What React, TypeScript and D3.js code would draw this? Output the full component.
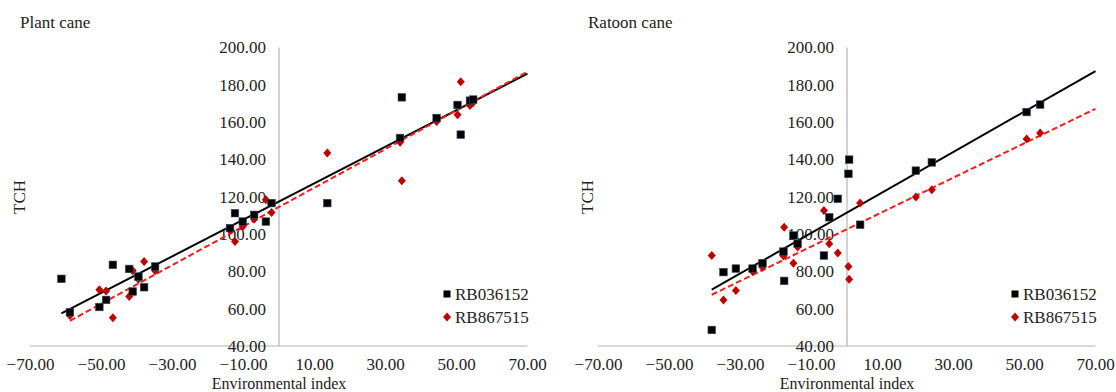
import React from "react";
import { scaleLinear, format, line, min } from "d3";

// tick values shared by both panels
const xTicks = [-70, -50, -30, -10, 10, 30, 50, 70];
const yTicks = [40, 60, 80, 100, 120, 140, 160, 180, 200];
const seriesNames = ["RB036152", "RB867515"];

// Plant cane: [environmental index, TCH]
const plantRB036152 = [
  [-61.3, 76.0], [-58.9, 58.1], [-50.6, 60.9], [-48.7, 64.7], [-46.8, 83.5],
  [-42.2, 81.3], [-41.2, 69.2], [-39.6, 77.2], [-38.0, 71.5], [-34.9, 82.6],
  [-13.8, 103.2], [-12.4, 111.2], [-10.2, 106.7], [-7.0, 110.3], [-3.7, 106.7],
  [-2.1, 116.6], [13.6, 116.6], [34.1, 151.5], [34.6, 173.3], [44.4, 162.2],
  [50.3, 169.2], [51.2, 153.3], [53.8, 171.5], [54.7, 172.1],
];
const plantRB867515 = [
  [-58.9, 56.3], [-50.6, 70.1], [-48.7, 69.5], [-46.8, 55.2], [-42.2, 66.5],
  [-41.2, 80.4], [-39.6, 75.8], [-38.0, 85.3], [-34.9, 80.4], [-13.8, 102.0],
  [-12.4, 96.0], [-10.2, 104.1], [-7.0, 108.0], [-3.7, 118.4], [-2.1, 111.6],
  [13.6, 143.4], [34.1, 149.2], [34.6, 128.6], [44.4, 160.4], [50.3, 164.0],
  [51.2, 181.7], [53.8, 168.9], [54.7, 170.5],
];
// [intercept, slope] of the linear trendlines
const plantTrends = [[117.5, 0.979], [114.5, 1.036]];

// Ratoon cane
const ratoonRB036152 = [
  [-38.1, 48.6], [-34.8, 79.6], [-31.3, 81.5], [-26.6, 81.5], [-23.8, 84.4],
  [-17.7, 74.9], [-17.9, 90.6], [-15.1, 99.2], [-13.9, 94.8], [-6.5, 88.5],
  [-5.0, 109.0], [-2.6, 118.9], [0.4, 132.3], [0.6, 139.9], [3.7, 105.0],
  [19.4, 134.0], [23.9, 138.4], [50.6, 165.4], [54.4, 169.4],
];
const ratoonRB867515 = [
  [-38.1, 88.5], [-34.8, 64.7], [-31.3, 69.7], [-26.6, 79.9], [-23.8, 82.2],
  [-17.7, 103.7], [-17.9, 88.3], [-15.1, 84.4], [-13.9, 93.0], [-6.5, 112.6],
  [-5.0, 94.8], [-2.6, 89.8], [0.4, 82.6], [0.6, 75.8], [3.7, 116.6],
  [19.4, 119.8], [23.9, 123.8], [50.6, 151.0], [54.4, 154.2],
];
const ratoonTrends = [[111.5, 1.084], [102.6, 0.922]];

const FONT = '"Liberation Serif", "Times New Roman", Times, serif';
const FS = 17;
const fmt = format(".2f");

function Panel(props) {
  const { left, title, series, trends } = props;
  // plot area inside the panel
  const x0 = left + 30.5;
  const x1 = left + 527.5;
  const xscale = scaleLinear().domain([-70, 70]).range([x0, x1]);
  const yscale = scaleLinear().domain([40, 200]).range([346, 47.5]);
  const trendLine = line()
    .x((d) => xscale(d[0]))
    .y((d) => yscale(d[1]));

  return (
    <g style={{ fontFamily: FONT }} fill="#222">
      <text x={left + 20} y={28} fontSize={FS}>{title}</text>
      <text
        transform={`translate(${left + 25},197) rotate(-90)`}
        textAnchor="middle"
        fontSize={FS}
      >
        TCH
      </text>
      <text x={(x0 + x1) / 2} y={388.5} textAnchor="middle" fontSize={16}>
        Environmental index
      </text>

      {/* axes */}
      <line x1={x0 - 1} x2={x1} y1={yscale(40)} y2={yscale(40)} stroke="#b4b4b4" strokeWidth={1.2} />
      <line x1={xscale(0)} x2={xscale(0)} y1={yscale(200)} y2={yscale(40)} stroke="#b4b4b4" strokeWidth={1.2} />
      {yTicks.map((t) => (
        <text
          key={t}
          x={xscale(0) - 13}
          y={yscale(t)}
          dy="0.35em"
          textAnchor="end"
          fontSize={FS}
        >
          {fmt(t)}
        </text>
      ))}
      {xTicks.map((t) => (
        <text key={t} x={xscale(t)} y={370.3} textAnchor="middle" fontSize={FS}>
          {fmt(t)}
        </text>
      ))}

      {/* trendlines */}
      {trends.map((c, i) => {
        const xs = min(series[i], (d) => d[0]);
        const pts = [xs, 70].map((v) => [v, c[0] + c[1] * v]);
        return (
          <path
            key={i}
            d={trendLine(pts)}
            fill="none"
            stroke={i === 0 ? "#000" : "#ff1a1a"}
            strokeWidth={2}
            strokeDasharray={i === 0 ? null : "6,3"}
          />
        );
      })}

      {/* points */}
      {series[1].map((d, j) => (
        <path
          key={"d" + j}
          transform={`translate(${xscale(d[0])},${yscale(d[1])})`}
          d="M0,-4.5L4,0L0,4.5L-4,0Z"
          fill="#c00000"
        />
      ))}
      {series[0].map((d, j) => (
        <rect
          key={"s" + j}
          x={xscale(d[0]) - 3.8}
          y={yscale(d[1]) - 3.8}
          width={7.6}
          height={7.6}
          fill="#000"
          stroke="#3a4d6b"
          strokeWidth={0.6}
        />
      ))}

      {/* legend */}
      <rect x={left + 443.5} y={290.5} width={7} height={7} fill="#000" />
      <text x={left + 455} y={300} fontSize={FS}>{seriesNames[0]}</text>
      <path transform={`translate(${left + 447},317)`} d="M0,-4.5L4,0L0,4.5L-4,0Z" fill="#c00000" />
      <text x={left + 455} y={323} fontSize={FS}>{seriesNames[1]}</text>
    </g>
  );
}

export default function App() {
  return (
    <svg
      width={1116}
      height={392}
      style={{ position: "absolute", left: 0, top: 0, background: "#fff" }}
    >
      <Panel
        left={0}
        title="Plant cane"
        series={[plantRB036152, plantRB867515]}
        trends={plantTrends}
      />
      <Panel
        left={568}
        title="Ratoon cane"
        series={[ratoonRB036152, ratoonRB867515]}
        trends={ratoonTrends}
      />
    </svg>
  );
}
